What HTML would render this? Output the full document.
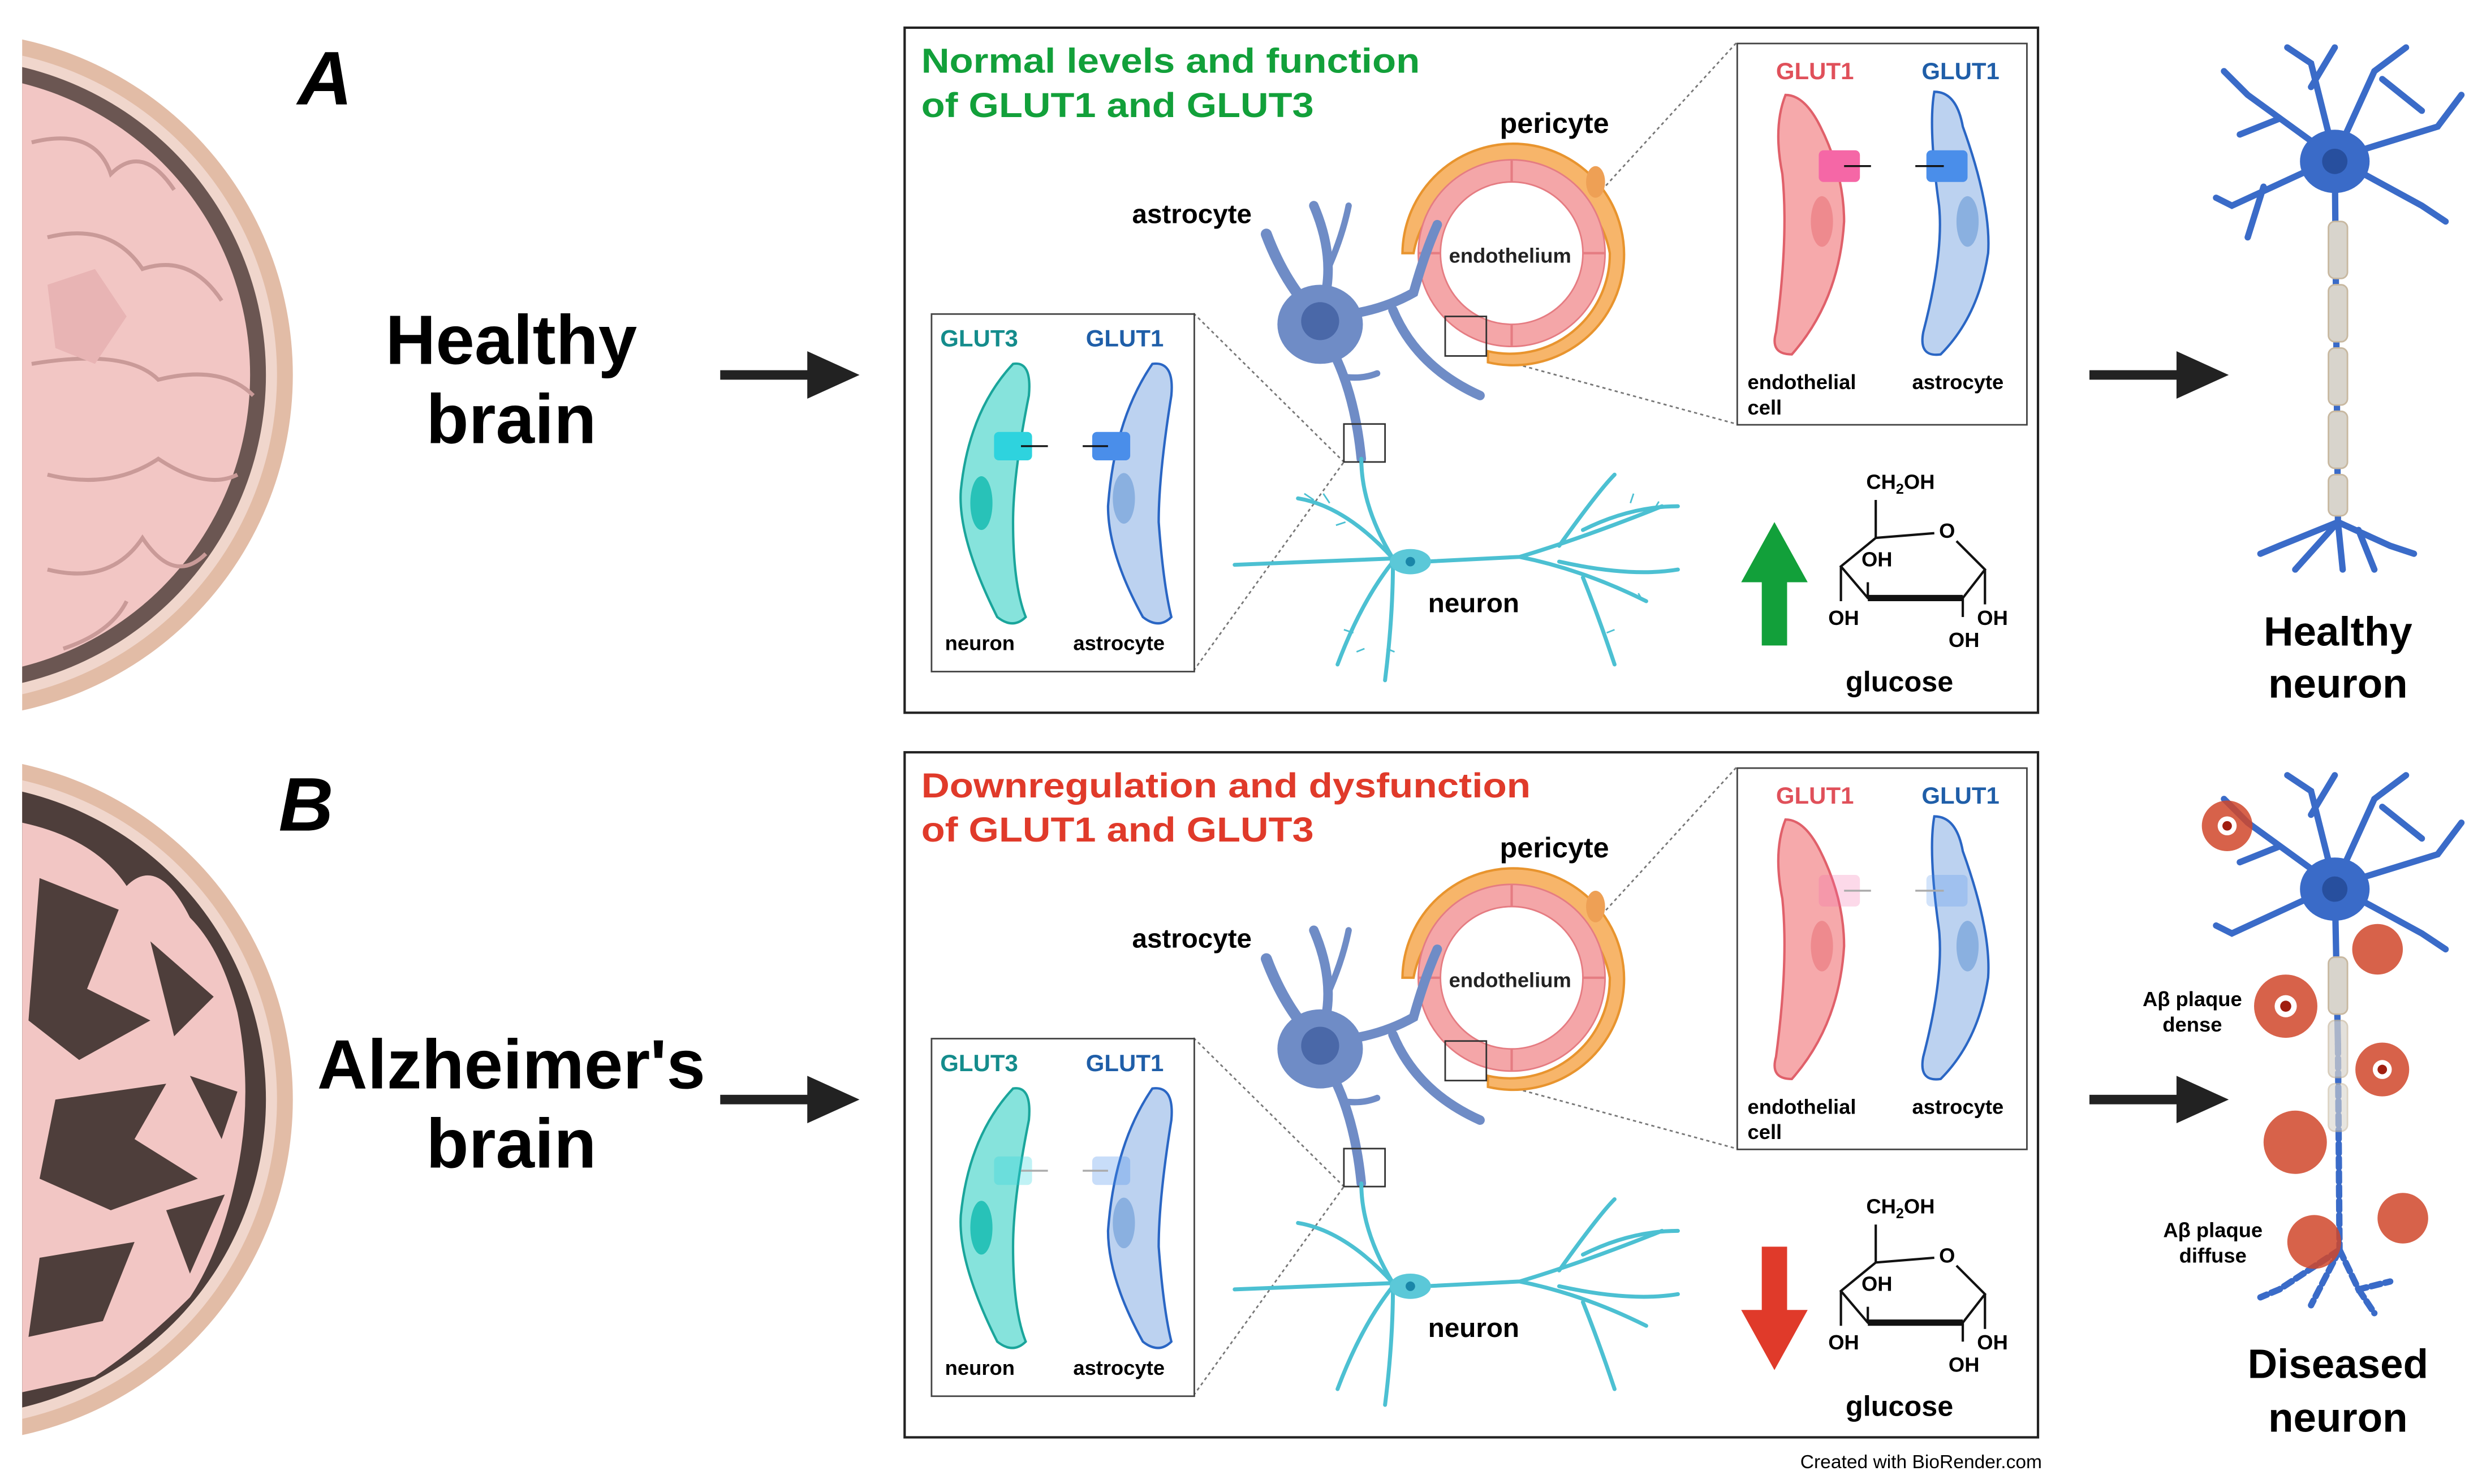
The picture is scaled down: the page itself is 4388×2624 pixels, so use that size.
<!DOCTYPE html>
<html><head><meta charset="utf-8"><style>
html,body{margin:0;padding:0;background:#fff}
svg{display:block}
text{font-family:"Liberation Sans",Arial,sans-serif;font-weight:bold}
</style></head><body>
<svg width="4388" height="2624" viewBox="0 0 1568 938" preserveAspectRatio="none" xmlns="http://www.w3.org/2000/svg">
<defs>
<clipPath id="clip"><rect x="14" y="0" width="400" height="938"/></clipPath>
</defs>
<rect width="1568" height="938" fill="#fff"/>

<!-- Brain A -->
<g clip-path="url(#clip)">
<circle cx="-32" cy="237" r="217" fill="#e2bca6"/>
<circle cx="-32" cy="237" r="207" fill="#f0d6cc"/>
<circle cx="-32" cy="237" r="200" fill="#6b5652"/>
<circle cx="-32" cy="237" r="190" fill="#f2c6c4"/>
<g stroke="#c99a98" stroke-width="2.5" fill="none">
<path d="M20 90 Q60 80 70 110 Q90 90 110 120 M30 150 Q70 140 90 170 Q120 160 140 190 M20 230 Q80 220 100 240 Q140 230 160 250 M30 300 Q70 310 100 290 Q130 310 150 300 M30 360 Q70 370 90 340 Q110 370 130 350 M40 410 Q70 400 80 380"/>
</g>
<path d="M30 180 L60 170 L80 200 L60 230 L35 220Z" fill="#e8b4b4"/>
</g>
<!-- Brain B -->
<g clip-path="url(#clip)">
<circle cx="-32" cy="695" r="217" fill="#e2bca6"/>
<circle cx="-32" cy="695" r="207" fill="#f0d6cc"/>
<circle cx="-32" cy="695" r="200" fill="#4e3e3b"/>
<g fill="#f2c6c4">
<path d="M14 520 Q60 530 80 560 Q100 540 120 580 Q140 600 150 640 Q160 690 150 740 Q140 790 120 820 Q90 850 60 870 L14 880 Z"/>
</g>
<g fill="#4e3e3b">
<path d="M25 555 L75 575 L55 625 L95 645 L50 670 L18 645Z M35 695 L105 685 L85 720 L125 745 L70 765 L25 745Z M25 795 L85 785 L65 835 L18 845Z M95 595 L135 630 L110 655Z M105 765 L142 755 L120 805Z M120 680 L150 690 L140 720Z"/>
</g>
</g>

<!-- A / B letters -->
<text x="188" y="66" font-size="48" font-style="italic">A</text>
<text x="176" y="525" font-size="48" font-style="italic">B</text>

<text x="323" y="230" font-size="44" text-anchor="middle">Healthy</text>
<text x="323" y="280" font-size="44" text-anchor="middle">brain</text>
<text x="323" y="688" font-size="44" text-anchor="middle">Alzheimer's</text>
<text x="323" y="738" font-size="44" text-anchor="middle">brain</text>

<!-- arrows -->
<g fill="#222">
<rect x="455" y="234" width="58" height="6"/><polygon points="510,222 543,237 510,252"/>
<rect x="455" y="692" width="58" height="6"/><polygon points="510,680 543,695 510,710"/>
<rect x="1320" y="234" width="58" height="6"/><polygon points="1375,222 1408,237 1375,252"/>
<rect x="1320" y="692" width="58" height="6"/><polygon points="1375,680 1408,695 1375,710"/>
</g>

<rect x="571.5" y="17.5" width="716" height="433" fill="none" stroke="#222" stroke-width="1.5"/>
<text x="582" y="46" font-size="22" fill="#12a03a" textLength="315" lengthAdjust="spacingAndGlyphs">Normal levels and function</text>
<text x="582" y="74" font-size="22" fill="#12a03a" textLength="248" lengthAdjust="spacingAndGlyphs">of GLUT1 and GLUT3</text>
<rect x="571.5" y="475.5" width="716" height="433" fill="none" stroke="#222" stroke-width="1.5"/>
<text x="582" y="504" font-size="22" fill="#e03a2a" textLength="385" lengthAdjust="spacingAndGlyphs">Downregulation and dysfunction</text>
<text x="582" y="532" font-size="22" fill="#e03a2a" textLength="248" lengthAdjust="spacingAndGlyphs">of GLUT1 and GLUT3</text>

<!-- shared content A -->
<g id="content">
<g stroke="#777" stroke-width="1" stroke-dasharray="2,2" fill="none">
<line x1="754" y1="198" x2="849" y2="292"/><line x1="754" y1="424" x2="849" y2="292"/>
<line x1="939" y1="200" x2="1097" y2="27"/><line x1="939" y1="225" x2="1097" y2="268"/>
</g>
<!-- pericyte crescent -->
<path d="M886 160 A70 70 0 1 1 940 229 L940 222 A63 63 0 0 0 1017 160 A63 63 0 0 0 893 160Z" fill="#f7b56a" stroke="#e8942e" stroke-width="1.5"/>
<ellipse cx="1008" cy="115" rx="6" ry="10" fill="#eea055"/>
<!-- endothelium -->
<circle cx="955" cy="160" r="52" fill="none" stroke="#f4a6a8" stroke-width="14"/>
<circle cx="955" cy="160" r="45" fill="#fff" stroke="#e57c82" stroke-width="1"/>
<circle cx="955" cy="160" r="59" fill="none" stroke="#e57c82" stroke-width="1"/>
<g stroke="#e57c82" stroke-width="1.5"><line x1="955" y1="101" x2="955" y2="115"/><line x1="955" y1="205" x2="955" y2="219"/><line x1="896" y1="160" x2="910" y2="160"/><line x1="1000" y1="160" x2="1014" y2="160"/></g>
<text x="954" y="166" font-size="13" text-anchor="middle" fill="#222">endothelium</text>
<text x="982" y="84" font-size="18" text-anchor="middle">pericyte</text>
<!-- astrocyte -->
<g stroke="#6f8cc6" stroke-linecap="round" fill="none">
<path d="M832 200 Q812 180 800 148" stroke-width="7"/>
<path d="M835 195 Q845 165 830 130" stroke-width="6"/>
<path d="M838 172 Q848 150 852 130" stroke-width="4"/>
<path d="M840 200 Q870 198 893 185 Q900 160 908 142" stroke-width="6"/>
<path d="M880 196 Q895 232 935 250" stroke-width="6"/>
<path d="M835 210 Q855 240 860 290" stroke-width="6"/>
<path d="M848 238 Q860 240 870 236" stroke-width="4"/>
</g>
<ellipse cx="834" cy="205" rx="27" ry="25" fill="#6f8cc6"/>
<circle cx="834" cy="203" r="12" fill="#4a68a8"/>
<text x="753" y="141" font-size="17" text-anchor="middle">astrocyte</text>
<rect x="849" y="268" width="26" height="24" fill="none" stroke="#333"/>
<rect x="913" y="200" width="26" height="25" fill="none" stroke="#333"/>
<!-- neuron -->
<g stroke="#4cc0d2" stroke-width="2.5" fill="none" stroke-linecap="round">
<path d="M780 357 L880 353 M900 355 L960 352 Q1000 340 1050 320 M960 352 Q1000 360 1040 380 M880 353 Q860 320 860 290 M880 353 Q850 320 820 315 M880 355 Q860 380 845 420 M880 355 Q880 390 875 430 M985 345 Q1010 310 1020 300 M1000 335 Q1030 320 1060 320 M1000 365 Q1010 390 1020 420 M985 355 Q1030 365 1060 360"/>
</g>
<g stroke="#4cc0d2" stroke-width="1" fill="none">
<path d="M830 316 l-6 -4 M840 318 l-4 -6 M850 330 l-6 2 M855 400 l-6 -2 M862 410 l-5 2 M876 410 l5 2 M1030 318 l2 -6 M1045 322 l3 -5 M1015 400 l5 -2 M1035 375 l3 5"/>
</g>
<ellipse cx="891" cy="355" rx="13" ry="8" fill="#5bc8d8"/>
<circle cx="891" cy="355" r="3" fill="#1a86a8"/>
<text x="931" y="387" font-size="17" text-anchor="middle">neuron</text>
<!-- left inset -->
<rect x="588.5" y="198.5" width="166" height="226" fill="#fff" stroke="#444"/>
<text x="594" y="219" font-size="15" fill="#148c8c">GLUT3</text>
<text x="686" y="219" font-size="15" fill="#1f5ea8">GLUT1</text>
<path d="M640 230 Q652 228 650 250 Q640 300 640 330 Q640 370 648 390 Q640 398 630 390 Q605 340 607 310 Q612 260 640 230Z" fill="#86e3dc" stroke="#1aa59b" stroke-width="1.5"/>
<ellipse cx="620" cy="318" rx="7" ry="17" fill="#28c2b8"/>
<path d="M728 230 Q742 228 740 250 Q732 300 732 330 Q735 370 740 390 Q732 398 722 390 Q700 350 700 320 Q704 265 728 230Z" fill="#bcd2f0" stroke="#2a66c4" stroke-width="1.5"/>
<ellipse cx="710" cy="315" rx="7" ry="16" fill="#8ab0e0"/>
<text x="597" y="411" font-size="13">neuron</text>
<text x="678" y="411" font-size="13">astrocyte</text>
<!-- right inset -->
<rect x="1097.5" y="27.5" width="183" height="241" fill="#fff" stroke="#444"/>
<text x="1122" y="50" font-size="15" fill="#e0505a">GLUT1</text>
<text x="1214" y="50" font-size="15" fill="#1f5ea8">GLUT1</text>
<path d="M1128 60 Q1140 60 1150 80 Q1165 110 1165 140 Q1162 190 1132 224 Q1118 224 1122 210 Q1130 150 1126 110 Q1120 80 1128 60Z" fill="#f6a9ab" stroke="#e0606a" stroke-width="1.5"/>
<ellipse cx="1151" cy="140" rx="7" ry="16" fill="#ee8a8e"/>
<path d="M1222 58 Q1236 58 1240 80 Q1258 130 1256 160 Q1250 200 1226 224 Q1212 226 1215 210 Q1228 160 1225 130 Q1218 80 1222 58Z" fill="#bcd2f0" stroke="#2a66c4" stroke-width="1.5"/>
<ellipse cx="1243" cy="140" rx="7" ry="16" fill="#8ab0e0"/>
<text x="1104" y="246" font-size="13">endothelial</text>
<text x="1104" y="262" font-size="13">cell</text>
<text x="1208" y="246" font-size="13">astrocyte</text>
<!-- glucose -->
<g stroke="#111" stroke-width="1.5" fill="none"><path d="M1185 316 L1185 340 L1222 337 M1236 342 L1254 360 L1240 378 L1180 378 L1163 358 L1185 340 M1163 358 L1163 380 M1180 378 L1180 368 M1254 360 L1254 382 M1240 378 L1240 390"/></g>
<path d="M1180 378 L1240 378" stroke="#111" stroke-width="4"/>
<text x="1179" y="309" font-size="13">CH<tspan font-size="9" dy="3">2</tspan><tspan dy="-3">OH</tspan></text>
<text x="1225" y="340" font-size="13">O</text>
<text x="1176" y="358" font-size="13">OH</text>
<text x="1155" y="395" font-size="13">OH</text>
<text x="1249" y="395" font-size="13">OH</text>
<text x="1231" y="409" font-size="13">OH</text>
<text x="1200" y="437" font-size="18" text-anchor="middle">glucose</text>
</g>
<!-- A specific -->
<rect x="628" y="273" width="24" height="18" rx="3" fill="#2ed3de"/>
<rect x="690" y="273" width="24" height="18" rx="3" fill="#4a8eea"/>
<rect x="1149" y="95" width="26" height="20" rx="3" fill="#f567a6"/>
<rect x="1217" y="95" width="26" height="20" rx="3" fill="#4a8eea"/>
<g stroke="#111" stroke-width="1.2"><line x1="645" y1="282" x2="662" y2="282"/><line x1="684" y1="282" x2="700" y2="282"/><line x1="1165" y1="105" x2="1182" y2="105"/><line x1="1210" y1="105" x2="1228" y2="105"/></g>
<polygon points="1100,368 1121,330 1142,368 1129,368 1129,408 1113,408 1113,368" fill="#12a03a"/>

<!-- shared content B -->
<g transform="translate(0,458)">
<g stroke="#777" stroke-width="1" stroke-dasharray="2,2" fill="none">
<line x1="754" y1="198" x2="849" y2="292"/><line x1="754" y1="424" x2="849" y2="292"/>
<line x1="939" y1="200" x2="1097" y2="27"/><line x1="939" y1="225" x2="1097" y2="268"/>
</g>
<path d="M886 160 A70 70 0 1 1 940 229 L940 222 A63 63 0 0 0 1017 160 A63 63 0 0 0 893 160Z" fill="#f7b56a" stroke="#e8942e" stroke-width="1.5"/>
<ellipse cx="1008" cy="115" rx="6" ry="10" fill="#eea055"/>
<circle cx="955" cy="160" r="52" fill="none" stroke="#f4a6a8" stroke-width="14"/>
<circle cx="955" cy="160" r="45" fill="#fff" stroke="#e57c82" stroke-width="1"/>
<circle cx="955" cy="160" r="59" fill="none" stroke="#e57c82" stroke-width="1"/>
<g stroke="#e57c82" stroke-width="1.5"><line x1="955" y1="101" x2="955" y2="115"/><line x1="955" y1="205" x2="955" y2="219"/><line x1="896" y1="160" x2="910" y2="160"/><line x1="1000" y1="160" x2="1014" y2="160"/></g>
<text x="954" y="166" font-size="13" text-anchor="middle" fill="#222">endothelium</text>
<text x="982" y="84" font-size="18" text-anchor="middle">pericyte</text>
<g stroke="#6f8cc6" stroke-linecap="round" fill="none">
<path d="M832 200 Q812 180 800 148" stroke-width="7"/>
<path d="M835 195 Q845 165 830 130" stroke-width="6"/>
<path d="M838 172 Q848 150 852 130" stroke-width="4"/>
<path d="M840 200 Q870 198 893 185 Q900 160 908 142" stroke-width="6"/>
<path d="M880 196 Q895 232 935 250" stroke-width="6"/>
<path d="M835 210 Q855 240 860 290" stroke-width="6"/>
<path d="M848 238 Q860 240 870 236" stroke-width="4"/>
</g>
<ellipse cx="834" cy="205" rx="27" ry="25" fill="#6f8cc6"/>
<circle cx="834" cy="203" r="12" fill="#4a68a8"/>
<text x="753" y="141" font-size="17" text-anchor="middle">astrocyte</text>
<rect x="849" y="268" width="26" height="24" fill="none" stroke="#333"/>
<rect x="913" y="200" width="26" height="25" fill="none" stroke="#333"/>
<g stroke="#4cc0d2" stroke-width="2.5" fill="none" stroke-linecap="round">
<path d="M780 357 L880 353 M900 355 L960 352 Q1000 340 1050 320 M960 352 Q1000 360 1040 380 M880 353 Q860 320 860 290 M880 353 Q850 320 820 315 M880 355 Q860 380 845 420 M880 355 Q880 390 875 430 M985 345 Q1010 310 1020 300 M1000 335 Q1030 320 1060 320 M1000 365 Q1010 390 1020 420 M985 355 Q1030 365 1060 360"/>
</g>
<ellipse cx="891" cy="355" rx="13" ry="8" fill="#5bc8d8"/>
<circle cx="891" cy="355" r="3" fill="#1a86a8"/>
<text x="931" y="387" font-size="17" text-anchor="middle">neuron</text>
<rect x="588.5" y="198.5" width="166" height="226" fill="#fff" stroke="#444"/>
<text x="594" y="219" font-size="15" fill="#148c8c">GLUT3</text>
<text x="686" y="219" font-size="15" fill="#1f5ea8">GLUT1</text>
<path d="M640 230 Q652 228 650 250 Q640 300 640 330 Q640 370 648 390 Q640 398 630 390 Q605 340 607 310 Q612 260 640 230Z" fill="#86e3dc" stroke="#1aa59b" stroke-width="1.5"/>
<ellipse cx="620" cy="318" rx="7" ry="17" fill="#28c2b8"/>
<path d="M728 230 Q742 228 740 250 Q732 300 732 330 Q735 370 740 390 Q732 398 722 390 Q700 350 700 320 Q704 265 728 230Z" fill="#bcd2f0" stroke="#2a66c4" stroke-width="1.5"/>
<ellipse cx="710" cy="315" rx="7" ry="16" fill="#8ab0e0"/>
<rect x="628" y="273" width="24" height="18" rx="3" fill="#2ed3de" opacity="0.3"/>
<rect x="690" y="273" width="24" height="18" rx="3" fill="#4a8eea" opacity="0.3"/>
<g stroke="#aaa" stroke-width="1.2"><line x1="645" y1="282" x2="662" y2="282"/><line x1="684" y1="282" x2="700" y2="282"/></g>
<text x="597" y="411" font-size="13">neuron</text>
<text x="678" y="411" font-size="13">astrocyte</text>
<rect x="1097.5" y="27.5" width="183" height="241" fill="#fff" stroke="#444"/>
<text x="1122" y="50" font-size="15" fill="#e0505a">GLUT1</text>
<text x="1214" y="50" font-size="15" fill="#1f5ea8">GLUT1</text>
<path d="M1128 60 Q1140 60 1150 80 Q1165 110 1165 140 Q1162 190 1132 224 Q1118 224 1122 210 Q1130 150 1126 110 Q1120 80 1128 60Z" fill="#f6a9ab" stroke="#e0606a" stroke-width="1.5"/>
<ellipse cx="1151" cy="140" rx="7" ry="16" fill="#ee8a8e"/>
<path d="M1222 58 Q1236 58 1240 80 Q1258 130 1256 160 Q1250 200 1226 224 Q1212 226 1215 210 Q1228 160 1225 130 Q1218 80 1222 58Z" fill="#bcd2f0" stroke="#2a66c4" stroke-width="1.5"/>
<ellipse cx="1243" cy="140" rx="7" ry="16" fill="#8ab0e0"/>
<rect x="1149" y="95" width="26" height="20" rx="3" fill="#f567a6" opacity="0.25"/>
<rect x="1217" y="95" width="26" height="20" rx="3" fill="#4a8eea" opacity="0.25"/>
<g stroke="#aaa" stroke-width="1.2"><line x1="1165" y1="105" x2="1182" y2="105"/><line x1="1210" y1="105" x2="1228" y2="105"/></g>
<text x="1104" y="246" font-size="13">endothelial</text>
<text x="1104" y="262" font-size="13">cell</text>
<text x="1208" y="246" font-size="13">astrocyte</text>
<polygon points="1100,370 1121,408 1142,370 1129,370 1129,330 1113,330 1113,370" fill="#e03a2a"/>
<g stroke="#111" stroke-width="1.5" fill="none"><path d="M1185 316 L1185 340 L1222 337 M1236 342 L1254 360 L1240 378 L1180 378 L1163 358 L1185 340 M1163 358 L1163 380 M1180 378 L1180 368 M1254 360 L1254 382 M1240 378 L1240 390"/></g>
<path d="M1180 378 L1240 378" stroke="#111" stroke-width="4"/>
<text x="1179" y="309" font-size="13">CH<tspan font-size="9" dy="3">2</tspan><tspan dy="-3">OH</tspan></text>
<text x="1225" y="340" font-size="13">O</text>
<text x="1176" y="358" font-size="13">OH</text>
<text x="1155" y="395" font-size="13">OH</text>
<text x="1249" y="395" font-size="13">OH</text>
<text x="1231" y="409" font-size="13">OH</text>
<text x="1200" y="437" font-size="18" text-anchor="middle">glucose</text>
</g>

<!-- Healthy neuron -->
<g stroke="#3a6bc8" stroke-width="4" fill="none" stroke-linecap="round">
<path d="M1475 100 L1420 60 L1405 45 M1440 75 L1415 85 M1475 100 L1460 40 L1445 30 M1460 55 L1475 30 M1475 100 L1500 45 L1520 30 M1505 50 L1530 70 M1475 100 L1540 80 L1555 60 M1475 100 L1530 130 L1545 140 M1475 100 L1410 130 L1400 125 M1430 118 L1420 150"/>
<path d="M1475 100 L1477 330 M1477 330 L1440 345 L1428 350 M1477 330 L1450 360 M1477 330 L1480 360 M1477 330 L1510 345 L1525 350 M1490 335 L1500 360"/>
</g>
<ellipse cx="1475" cy="102" rx="22" ry="20" fill="#3a6bc8"/>
<circle cx="1475" cy="102" r="8" fill="#274f9e"/>
<g fill="#d8d4cc" stroke="#c8b8a0" stroke-width="1">
<rect x="1471" y="140" width="12" height="36" rx="4"/><rect x="1471" y="180" width="12" height="36" rx="4"/><rect x="1471" y="220" width="12" height="36" rx="4"/><rect x="1471" y="260" width="12" height="36" rx="4"/><rect x="1471" y="300" width="12" height="26" rx="4"/>
</g>
<text x="1477" y="408" font-size="26" text-anchor="middle">Healthy</text>
<text x="1477" y="441" font-size="26" text-anchor="middle">neuron</text>

<!-- Diseased neuron -->
<g stroke="#3a6bc8" stroke-width="4" fill="none" stroke-linecap="round">
<path d="M1475 560 L1420 520 L1405 505 M1440 535 L1415 545 M1475 560 L1460 500 L1445 490 M1460 515 L1475 490 M1475 560 L1500 505 L1520 490 M1505 510 L1530 530 M1475 560 L1540 540 L1555 520 M1475 560 L1530 590 L1545 600 M1475 560 L1410 590 L1400 585"/>
<path d="M1475 560 L1477 660" />
<path d="M1477 660 L1478 790 M1478 790 L1440 815 L1428 820 M1478 790 L1460 825 M1478 790 L1490 815 L1510 810 M1490 815 L1500 830" stroke-dasharray="6,3"/>
</g>
<ellipse cx="1475" cy="562" rx="22" ry="20" fill="#3a6bc8"/>
<circle cx="1475" cy="562" r="8" fill="#274f9e"/>
<g fill="#d8d4cc" stroke="#c8b8a0" stroke-width="1">
<rect x="1471" y="605" width="12" height="36" rx="4"/><rect x="1471" y="645" width="12" height="36" rx="4" opacity="0.7"/><rect x="1471" y="685" width="12" height="30" rx="4" opacity="0.6"/>
</g>
<g fill="#d0462a">
<circle cx="1407" cy="522" r="16" opacity="0.85"/><circle cx="1502" cy="600" r="16" opacity="0.85"/><circle cx="1444" cy="636" r="20" opacity="0.85"/><circle cx="1505" cy="676" r="17" opacity="0.85"/><circle cx="1450" cy="722" r="20" opacity="0.85"/><circle cx="1518" cy="770" r="16" opacity="0.85"/><circle cx="1462" cy="785" r="17" opacity="0.85"/>
</g>
<g fill="#fff"><circle cx="1407" cy="522" r="6"/><circle cx="1444" cy="636" r="7"/><circle cx="1505" cy="676" r="6"/></g>
<g fill="#a01e10"><circle cx="1407" cy="522" r="3"/><circle cx="1444" cy="636" r="3.5"/><circle cx="1505" cy="676" r="3"/></g>
<text x="1385" y="636" font-size="13" text-anchor="middle">Aβ plaque</text>
<text x="1385" y="652" font-size="13" text-anchor="middle">dense</text>
<text x="1398" y="782" font-size="13" text-anchor="middle">Aβ plaque</text>
<text x="1398" y="798" font-size="13" text-anchor="middle">diffuse</text>
<text x="1477" y="871" font-size="26" text-anchor="middle">Diseased</text>
<text x="1477" y="905" font-size="26" text-anchor="middle">neuron</text>

<text x="1290" y="928" font-size="12" text-anchor="end" style="font-weight:normal">Created with BioRender.com</text>
</svg>
</body></html>
